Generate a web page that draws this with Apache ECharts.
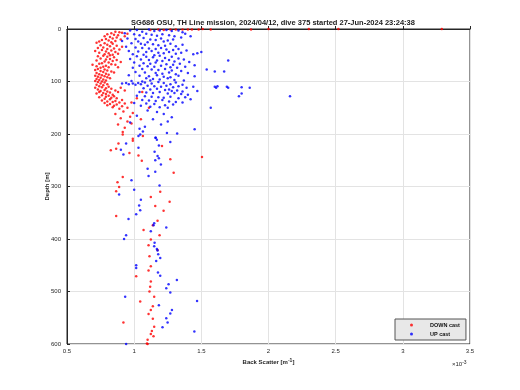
<!DOCTYPE html>
<html>
<head>
<meta charset="utf-8">
<script src="https://cdn.jsdelivr.net/npm/echarts@6/dist/echarts.min.js"></script>
<style>html,body{margin:0;padding:0;background:#fff}#c{width:520px;height:390px}</style>
</head>
<body>
<div id="c"></div>
<script>
const titleText = "SG686 OSU, TH Line mission, 2024/04/12, dive 375 started 27-Jun-2024 23:24:38";
const xTicks = [0.5, 1, 1.5, 2, 2.5, 3, 3.5];
const yTicks = [0, 100, 200, 300, 400, 500, 600];
const seriesNames = ["DOWN cast", "UP cast"];

// [backscatter (x1e-3 m^-1), depth (m)]
const downTop = [[1.12,2],[1.18,1],[1.22,2],[1.27,1],[1.31,1],[1.36,1],[1.40,1],[1.43,1],[1.48,1],[1.51,0],[1.57,1],[1.87,1],[2.00,0],[2.30,0],[2.52,0],[3.29,0]];
const downCluster = [
[0.86,5],[0.89,6],[0.83,8],[0.91,7],[0.80,10],[0.85,11],[0.88,12],[0.78,14],[0.82,15],[0.87,16],[0.84,18],[0.79,19],[0.90,20],[0.76,21],[0.81,22],[0.86,23],[0.74,24],[0.83,25],[0.93,14],[0.95,9],
[0.72,26],[0.78,27],[0.84,28],[0.80,30],[0.75,31],[0.87,32],[0.82,33],[0.77,35],[0.73,36],[0.85,37],[0.80,38],[0.89,39],[0.76,40],[0.83,41],[0.79,43],[0.86,44],[0.74,45],[0.81,46],[0.78,48],[0.84,49],[0.71,42],[0.91,34],[0.88,47],[0.82,50],
[0.77,51],[0.73,52],[0.80,53],[0.85,54],[0.75,56],[0.82,57],[0.79,58],[0.87,59],[0.72,60],[0.84,61],[0.78,62],[0.81,64],[0.76,65],[0.74,66],[0.83,67],[0.86,68],[0.79,70],[0.72,71],[0.77,72],[0.81,73],[0.75,74],[0.69,68],[0.90,63],[0.88,73],
[0.73,76],[0.78,77],[0.71,78],[0.80,79],[0.75,80],[0.83,81],[0.77,82],[0.72,84],[0.79,85],[0.74,86],[0.81,87],[0.76,88],[0.71,89],[0.78,90],[0.73,91],[0.80,92],[0.75,93],[0.72,95],[0.77,96],[0.74,97],[0.79,98],[0.71,99],[0.76,100],[0.82,94],[0.85,83],
[0.73,101],[0.78,102],[0.75,104],[0.80,105],[0.72,106],[0.77,107],[0.74,109],[0.81,110],[0.76,111],[0.71,112],[0.79,113],[0.83,114],[0.73,115],[0.78,116],[0.75,118],[0.80,119],[0.86,117],[0.74,120],[0.82,121],[0.77,122],[0.72,123],[0.79,124],[0.84,125],[0.88,120],[0.90,112],
[0.76,126],[0.81,127],[0.85,128],[0.79,129],[0.74,130],[0.83,131],[0.87,132],[0.78,133],[0.82,134],[0.91,135],[0.76,136],[0.86,137],[0.80,138],[0.84,139],[0.89,140],[0.78,141],[0.93,142],[0.82,143],[0.87,144],[0.80,145],[0.85,146],[0.91,147],[0.84,149],[0.95,150],[0.98,140],[0.89,152],[0.92,157],[0.86,162],[0.97,167],
[0.90,170],[0.95,176],[0.88,182],[0.93,188],[0.98,180],[1.05,172],[0.99,160],[1.06,120],[1.11,150],[0.93,117],[1.02,132]
];
const downDeep = [[0.915,196],[0.915,201],[0.990,209],[0.990,213],[1.065,204],[0.883,218],[0.866,228],[0.826,231],[0.965,236],[1.032,241],[1.057,251],[1.207,223],[1.269,248],[1.505,244],[1.294,274],[0.915,282],[0.876,292],[0.888,301],[0.866,309],[1.194,310],[1.264,329],[1.124,320],[1.157,337],[1.219,346],[0.866,356],[1.174,365],[1.139,374],[1.070,383],[1.189,393],[1.124,401],[1.107,412],[1.174,421],[1.114,433],[1.124,452],[1.107,460],[1.015,471],[1.124,481],[1.119,491],[1.114,500],[1.149,510],[1.045,519],[1.139,528],[1.124,535],[1.107,543],[1.139,552],[0.920,559],[1.149,567],[1.132,575],[1.124,581],[1.144,585],[1.100,592],[1.095,599],[1.100,600]];

const upCluster = [
[0.97,3],[1.02,2],[1.06,5],[1.11,1],[1.15,4],[1.19,3],[1.24,2],[1.28,4],[1.33,3],[1.36,6],[1.38,9],[0.93,8],[1.00,10],[1.04,12],[1.09,9],[1.13,11],[1.17,13],[1.21,10],[1.26,12],[1.30,14],[1.35,16],[0.95,18],[1.01,19],[1.07,17],[1.12,20],[1.16,21],[1.20,18],[1.25,22],[1.29,20],[1.42,14],[0.91,23],[1.03,24],[1.10,25],[1.22,24],
[0.98,27],[1.05,28],[1.08,30],[1.14,29],[1.18,31],[1.23,32],[1.27,28],[1.31,33],[1.36,30],[0.94,34],[1.01,35],[1.06,36],[1.11,37],[1.16,38],[1.20,36],[1.24,39],[1.29,40],[1.33,38],[1.39,41],[0.96,42],[1.03,43],[1.09,44],[1.13,42],[1.18,45],[1.22,46],[1.26,44],[1.31,47],[1.44,48],[1.47,46],[1.50,44],[0.99,48],[1.07,49],[1.15,50],[1.35,45],
[1.02,52],[1.09,53],[1.14,54],[1.19,51],[1.23,55],[1.28,53],[1.33,56],[1.37,58],[0.97,57],[1.05,58],[1.11,59],[1.17,60],[1.21,61],[1.26,59],[1.30,62],[1.41,63],[1.70,60],[1.00,64],[1.07,65],[1.12,66],[1.16,64],[1.24,67],[1.29,68],[1.34,66],[1.45,69],[1.04,70],[1.10,71],[1.15,72],[1.20,70],[1.27,73],[1.32,74],[1.38,72],[1.54,77],[0.99,74],
[1.06,76],[1.13,77],[1.18,78],[1.23,76],[1.28,79],[1.35,80],[1.60,81],[1.67,81],[1.01,82],[1.08,83],[1.16,84],[1.21,85],[1.26,83],[1.31,86],[1.40,84],[0.96,88],[1.04,89],[1.11,90],[1.17,88],[1.22,91],[1.27,92],[1.33,89],[1.45,90],[1.09,94],[1.14,95],[1.19,96],[1.25,94],[1.30,97],[1.37,98],[0.98,99],[1.06,100],[1.12,98],
[0.91,104],[0.94,103],[0.96,105],[0.99,104],[1.01,106],[1.03,103],[1.05,105],[1.08,102],[1.13,104],[1.18,101],[1.22,103],[1.27,105],[1.31,102],[1.36,106],[1.10,108],[1.15,109],[1.20,110],[1.24,108],[1.29,111],[1.33,109],[1.39,112],[1.44,110],[1.60,110],[1.61,112],[1.62,109],[1.69,110],[1.70,112],[1.80,111],[1.86,112],[1.07,113],[1.12,115],[1.17,114],[1.23,116],[1.26,115],[1.28,118],[1.32,117],[1.36,119],[1.47,118],[1.04,120],[1.09,121],[1.14,122],[1.19,120],[1.25,123],[1.30,122],[1.35,124],[1.40,125],[1.78,128],[1.80,123],[2.16,128],
[1.02,127],[1.08,128],[1.13,129],[1.18,130],[1.22,131],[1.27,129],[1.33,132],[1.38,130],[1.42,134],[1.06,135],[1.11,136],[1.16,137],[1.21,135],[1.26,138],[1.31,139],[1.36,140],[1.00,141],[1.09,142],[1.15,143],[1.23,145],[1.29,144],[1.12,148],[1.19,149],[1.25,150],[1.57,150],[1.05,146],
[1.10,155],[1.17,158],[1.22,162],[1.02,165],[1.28,168],[1.14,172],[0.97,178],[1.20,182],[1.08,186],[1.45,191],[1.25,176],[1.32,199],[1.16,207],[1.04,190]
];
const upDeep = [[1.065,195],[1.045,201],[1.032,204],[1.244,198],[1.159,207],[1.169,211],[1.269,215],[1.184,222],[0.940,218],[0.901,230],[0.920,239],[1.032,226],[1.152,234],[1.174,242],[1.184,246],[1.157,250],[1.199,258],[1.100,266],[1.157,272],[1.107,280],[0.980,288],[1.189,298],[1.000,306],[0.888,315],[1.050,325],[1.037,336],[1.045,345],[1.015,353],[0.958,362],[1.149,370],[1.144,374],[1.239,378],[1.124,385],[0.940,393],[0.925,400],[1.152,407],[1.149,414],[1.169,419],[1.174,422],[1.179,429],[1.194,436],[1.164,442],[1.015,450],[1.015,455],[1.177,464],[1.194,470],[1.318,478],[1.256,486],[1.239,494],[1.269,502],[0.933,510],[1.468,518],[1.184,526],[1.281,535],[1.269,542],[1.239,551],[1.249,559],[1.211,568],[1.448,576],[0.940,600]];

const downData = downTop.concat(downCluster, downDeep);
const upData = upCluster.concat(upDeep);

const FONT = "Liberation Sans";
const chart = echarts.init(document.getElementById('c'), null, {renderer: 'canvas'});
chart.setOption({
  animation: false,
  backgroundColor: '#fff',
  title: {
    text: titleText, left: 268, top: 14, textAlign: 'center',
    textStyle: {fontFamily: FONT, fontSize: 7.5, fontWeight: 'bold', color: '#222'}
  },
  grid: {left: 67, right: 50, top: 29, bottom: 46, show: true, borderColor: '#262626', borderWidth: 1, backgroundColor: '#fff'},
  xAxis: {
    type: 'value', min: 0.5, max: 3.5, interval: 0.5,
    name: 'Back Scatter [m{s|-1}]', nameLocation: 'middle', nameGap: 14, nameMoveOverlap: false,
    nameTextStyle: {fontFamily: FONT, fontSize: 6, fontWeight: 'bold', color: '#262626',
      rich: {s: {fontSize: 5, fontWeight: 'bold', verticalAlign: 'top', padding: [0,0,4,0], fontFamily: FONT, color: '#262626'}}},
    axisLine: {show: true, lineStyle: {color: '#262626'}},
    axisTick: {show: true, inside: true, length: 3, lineStyle: {color: '#262626'}},
    axisLabel: {fontFamily: FONT, fontSize: 6, color: '#262626', margin: 4, formatter: v => String(v)},
    splitLine: {show: true, lineStyle: {color: '#e3e3e3', width: 1}}
  },
  yAxis: {
    type: 'value', min: 0, max: 600, interval: 100, inverse: true,
    name: 'Depth [m]', nameLocation: 'middle', nameGap: 17, nameRotate: 90, nameMoveOverlap: false,
    nameTextStyle: {fontFamily: FONT, fontSize: 6, fontWeight: 'bold', color: '#262626'},
    axisLine: {show: true, lineStyle: {color: '#262626'}},
    axisTick: {show: true, inside: true, length: 3, lineStyle: {color: '#262626'}},
    axisLabel: {fontFamily: FONT, fontSize: 6, color: '#262626', margin: 6},
    splitLine: {show: true, lineStyle: {color: '#e3e3e3', width: 1}}
  },
  legend: {
    orient: 'vertical', left: 395, top: 319,
    itemWidth: 3, itemHeight: 3, itemGap: 3, padding: [3, 6, 3, 15],
    backgroundColor: '#e8e8e8', borderColor: '#555', borderWidth: 1,
    textStyle: {fontFamily: FONT, fontSize: 5.5, fontWeight: 'bold', color: '#111', padding: [0,0,0,12]},
    data: [{name: seriesNames[0], icon: 'circle'}, {name: seriesNames[1], icon: 'circle'}]
  },
  graphic: [{
    type: 'text', left: 452, top: 360,
    style: {text: '×10{s|-3}', fontFamily: FONT, fontSize: 6, fill: '#262626',
      rich: {s: {fontSize: 5, verticalAlign: 'top', padding: [0,0,4,0], fontFamily: FONT, fill: '#262626'}}}
  }],
  series: [
    {name: seriesNames[0], type: 'scatter', data: downData, symbol: 'circle', symbolSize: 2.5, itemStyle: {color: '#ff0000'}},
    {name: seriesNames[1], type: 'scatter', data: upData, symbol: 'circle', symbolSize: 2.5, itemStyle: {color: '#0000ff'}}
  ]
});
</script>
</body>
</html>
